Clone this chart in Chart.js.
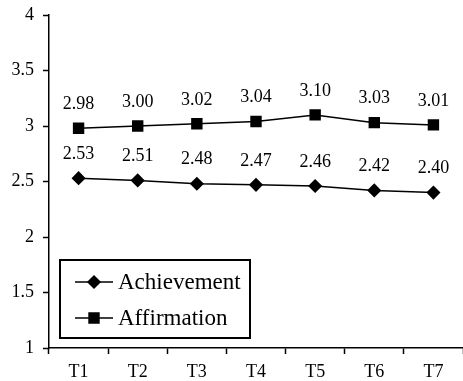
<!DOCTYPE html>
<html>
<head>
<meta charset="utf-8">
<script src="https://cdn.jsdelivr.net/npm/chart.js@4"></script>
<style>
  html, body { margin: 0; padding: 0; background: #fff; }
  #wrap { width: 463px; height: 381px; }
</style>
</head>
<body>
<div id="wrap"><canvas id="myChart" width="463" height="381"></canvas></div>
<script>
const labels = ['T1', 'T2', 'T3', 'T4', 'T5', 'T6', 'T7'];
const achievement = [2.53, 2.51, 2.48, 2.47, 2.46, 2.42, 2.40];
const affirmation = [2.98, 3.00, 3.02, 3.04, 3.10, 3.03, 3.01];
const seriesNames = ['Achievement', 'Affirmation'];

const serif = '"Liberation Serif", "Times New Roman", serif';

// valeurs au-dessus des points
const valueLabels = {
    id: 'valueLabels',
    afterDatasetsDraw(chart) {
        const ctx = chart.ctx;
        ctx.save();
        ctx.font = '18px ' + serif;
        ctx.fillStyle = '#000';
        ctx.textAlign = 'center';
        ctx.textBaseline = 'middle';
        chart.data.datasets.forEach((ds, i) => {
            const meta = chart.getDatasetMeta(i);
            meta.data.forEach((pt, j) => {
                ctx.fillText(ds.data[j].toFixed(2), pt.x, pt.y - 24);
            });
        });
        ctx.restore();
    }
};

// légende dans un cadre, en bas à gauche
const boxLegend = {
    id: 'boxLegend',
    afterDraw(chart) {
        const ctx = chart.ctx;
        const x = 60, y = 260, w = 190, h = 78;
        ctx.save();
        ctx.fillStyle = '#fff';
        ctx.fillRect(x, y, w, h);
        ctx.lineWidth = 2;
        ctx.strokeStyle = '#000';
        ctx.strokeRect(x, y, w, h);
        chart.data.datasets.forEach((ds, i) => {
            const cy = y + 22 + i * 36;
            ctx.beginPath();
            ctx.lineWidth = 1.5;
            ctx.moveTo(x + 15, cy);
            ctx.lineTo(x + 53, cy);
            ctx.stroke();
            ctx.fillStyle = '#000';
            Chart.helpers.drawPoint(ctx, {
                pointStyle: ds.pointStyle,
                radius: ds.pointRadius,
                borderWidth: 1
            }, x + 34, cy);
            ctx.font = '23px ' + serif;
            ctx.textAlign = 'left';
            ctx.textBaseline = 'middle';
            ctx.fillText(ds.label, x + 58, cy + 1);
        });
        ctx.restore();
    }
};

new Chart(document.getElementById('myChart'), {
    type: 'line',
    data: {
        labels: labels,
        datasets: [{
            label: seriesNames[0],
            data: achievement,
            borderColor: '#000',
            backgroundColor: '#000',
            borderWidth: 1.5,
            pointStyle: 'rectRot',
            pointRadius: 6,
            tension: 0
        }, {
            label: seriesNames[1],
            data: affirmation,
            borderColor: '#000',
            backgroundColor: '#000',
            borderWidth: 1.5,
            pointStyle: 'rect',
            pointRadius: 7,
            tension: 0
        }]
    },
    options: {
        responsive: false,
        animation: false,
        events: [],
        layout: { autoPadding: false, padding: { top: 15, right: 0, left: 0, bottom: 0 } },
        plugins: {
            legend: { display: false },
            tooltip: { enabled: false }
        },
        scales: {
            y: {
                min: 1,
                max: 4,
                ticks: {
                    stepSize: 0.5,
                    color: '#000',
                    padding: 9,
                    font: { family: serif, size: 18 },
                    callback: v => String(v)
                },
                grid: {
                    drawOnChartArea: false,
                    tickLength: 6,
                    tickColor: '#000',
                    tickWidth: 1.5
                },
                border: { color: '#000', width: 1.5 },
                afterFit(scale) {
                    scale.width = 49;
                    scale.paddingTop = 0;
                    scale.paddingBottom = 0;
                }
            },
            x: {
                offset: true,
                ticks: {
                    color: '#000',
                    padding: 7,
                    font: { family: serif, size: 18 }
                },
                grid: {
                    offset: true,
                    drawOnChartArea: false,
                    tickLength: 6,
                    tickColor: '#000',
                    tickWidth: 1.5
                },
                border: { color: '#000', width: 1.5 },
                afterFit(scale) { scale.height = 33; }
            }
        }
    },
    plugins: [valueLabels, boxLegend]
});
</script>
</body>
</html>
